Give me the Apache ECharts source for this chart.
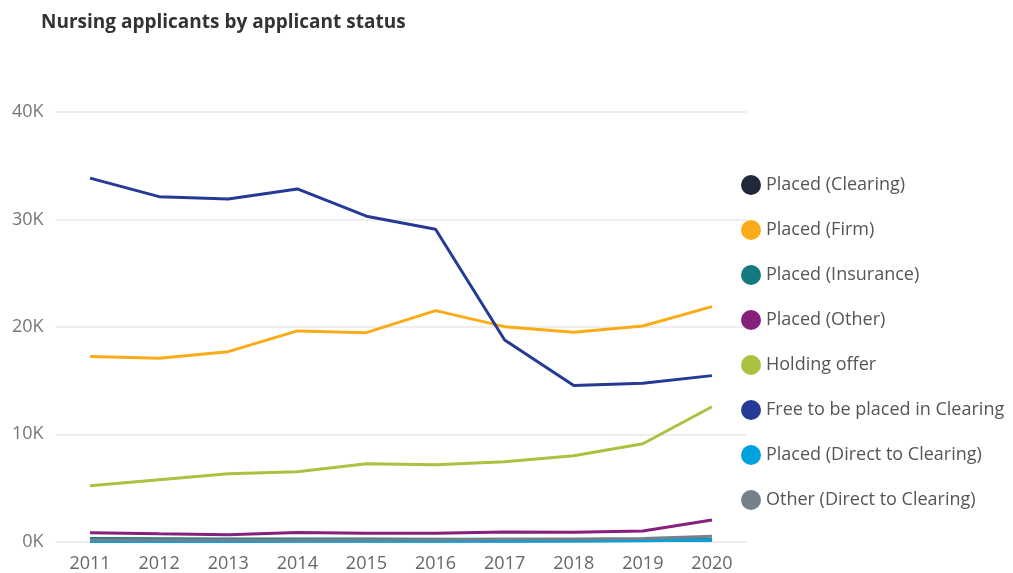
<!DOCTYPE html>
<html>
<head>
<meta charset="utf-8">
<script src="https://cdn.jsdelivr.net/npm/echarts@6/dist/echarts.min.js"></script>
<style>
  html, body { margin: 0; padding: 0; background: #fff; }
  #chart { width: 1013px; height: 573px; }
</style>
</head>
<body>
<div id="chart"></div>
<script>
// data
var years = ['2011', '2012', '2013', '2014', '2015', '2016', '2017', '2018', '2019', '2020'];
var placedClearing = [80, 80, 80, 80, 80, 80, 90, 100, 110, 150];
var placedFirm = [17230, 17080, 17690, 19620, 19460, 21510, 20020, 19500, 20080, 21880];
var placedInsurance = [300, 280, 260, 250, 240, 230, 220, 200, 200, 190];
var placedOther = [840, 740, 650, 850, 780, 790, 900, 870, 1000, 2020];
var holdingOffer = [5210, 5770, 6330, 6510, 7260, 7160, 7440, 8000, 9120, 12560];
var freeToBePlaced = [33840, 32120, 31910, 32840, 30300, 29090, 18780, 14530, 14750, 15460];
var placedDirect = [30, 30, 30, 40, 40, 40, 50, 60, 80, 150];
var otherDirect = [150, 150, 150, 160, 170, 180, 220, 260, 300, 500];

var names = ['Placed (Clearing)', 'Placed (Firm)', 'Placed (Insurance)', 'Placed (Other)',
  'Holding offer', 'Free to be placed in Clearing', 'Placed (Direct to Clearing)', 'Other (Direct to Clearing)'];
var colors = ['#1f2937', '#fbab18', '#137a7f', '#86207c', '#a9c23f', '#253a94', '#00a3e0', '#76808a'];
var values = [placedClearing, placedFirm, placedInsurance, placedOther,
  holdingOffer, freeToBePlaced, placedDirect, otherDirect];

var font = '"Open Sans", "Noto Sans", sans-serif';

var myChart = echarts.init(document.getElementById('chart'));

myChart.setOption({
  animation: false,
  color: colors,
  title: {
    text: 'Nursing applicants by applicant status',
    left: 36,
    top: 8,
    textStyle: { fontFamily: font, fontSize: 19, fontWeight: 'bold', color: '#333' }
  },
  legend: {
    orient: 'vertical',
    left: 736,
    top: 170,
    icon: 'circle',
    itemWidth: 20,
    itemHeight: 20,
    itemGap: 25,
    textStyle: { fontFamily: font, fontSize: 18, color: '#555' },
    data: names
  },
  grid: {
    left: 55.5,
    right: 266.5,
    top: 112,
    bottom: 31.3
  },
  xAxis: {
    type: 'category',
    data: years,
    boundaryGap: true,
    axisLine: { show: false },
    axisTick: { show: false },
    axisLabel: { fontFamily: font, fontSize: 18, color: '#666', margin: 13 }
  },
  yAxis: {
    type: 'value',
    min: 0,
    max: 40000,
    interval: 10000,
    axisLabel: {
      fontFamily: font, fontSize: 18, color: '#777', margin: 12,
      formatter: function (v) { return (v / 1000) + 'K'; }
    },
    splitLine: { lineStyle: { color: '#e8e8e8', width: 1.5 } }
  },
  series: names.map(function (n, i) {
    return {
      name: n,
      type: 'line',
      data: values[i],
      symbol: 'none',
      lineStyle: { width: 3 }
    };
  })
});
</script>
</body>
</html>
